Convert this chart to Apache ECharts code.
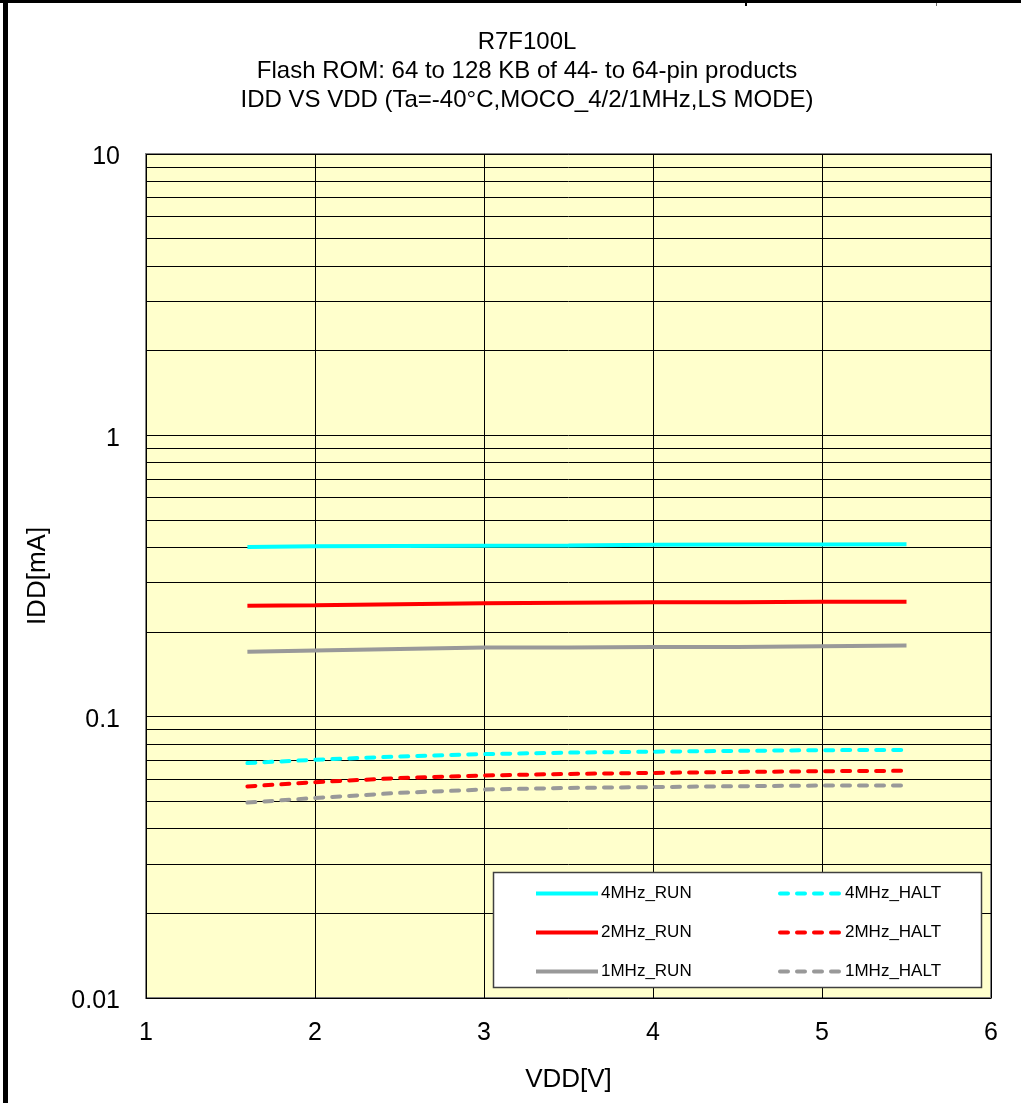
<!DOCTYPE html>
<html><head><meta charset="utf-8">
<script src="https://cdn.jsdelivr.net/npm/echarts@6/dist/echarts.min.js"></script>
<style>html,body{margin:0;padding:0;background:#fff}#c{width:1021px;height:1103px}</style>
</head><body><div id="c"></div>
<script>
const vdd = [1.6, 2, 2.5, 3, 3.5, 4, 4.5, 5, 5.5];
const run4MHz  = [0.401, 0.403, 0.404, 0.405, 0.406, 0.408, 0.409, 0.409, 0.410];
const run2MHz  = [0.248, 0.249, 0.251, 0.253, 0.254, 0.255, 0.255, 0.256, 0.256];
const run1MHz  = [0.170, 0.172, 0.174, 0.176, 0.176, 0.177, 0.177, 0.178, 0.179];
const halt4MHz = [0.0684, 0.0703, 0.0722, 0.0736, 0.0745, 0.0751, 0.0756, 0.0760, 0.0762];
const halt2MHz = [0.0565, 0.0585, 0.0605, 0.0618, 0.0626, 0.0631, 0.0636, 0.0640, 0.0642];
const halt1MHz = [0.0495, 0.0514, 0.0536, 0.0551, 0.0558, 0.0562, 0.0566, 0.0569, 0.0569];
const runNames = ['4MHz_RUN', '2MHz_RUN', '1MHz_RUN'];
const haltNames = ['4MHz_HALT', '2MHz_HALT', '1MHz_HALT'];
const minorGridValues = [0.02,0.03,0.04,0.05,0.06,0.07,0.08,0.09,0.2,0.3,0.4,0.5,0.6,0.7,0.8,0.9,2,3,4,5,6,7,8,9];
const titleLines = ['R7F100L', 'Flash ROM: 64 to 128 KB of 44- to 64-pin products', 'IDD VS VDD (Ta=-40°C,MOCO_4/2/1MHz,LS MODE)'];

const FONT = '"Liberation Sans", Arial, sans-serif';
const zip = (ys) => vdd.map((x, i) => [x, ys[i]]);
const mk = (name, ys, color, dashed) => ({
  name, type: 'line', data: zip(ys), symbol: 'none', smooth: false,
  lineStyle: { color, width: 4, type: dashed ? [8, 9] : 'solid', cap: dashed ? 'round' : 'butt' },
  itemStyle: { color }, z: 5
});
const series = [
  mk(runNames[0], run4MHz, '#00FFFF', false),
  mk(runNames[1], run2MHz, '#FF0000', false),
  mk(runNames[2], run1MHz, '#999999', false),
  mk(haltNames[0], halt4MHz, '#00FFFF', true),
  mk(haltNames[1], halt2MHz, '#FF0000', true),
  mk(haltNames[2], halt1MHz, '#999999', true)
];
series[0].markLine = {
  silent: true, symbol: 'none', animation: false, z: 1,
  label: { show: false },
  lineStyle: { color: '#000', width: 1, type: 'solid' },
  emphasis: { disabled: true },
  data: minorGridValues.map(v => ({ yAxis: v }))
};

const legendBase = {
  orient: 'vertical', top: 885, padding: 0,
  itemWidth: 62, itemHeight: 14, itemGap: 22,
  itemStyle: { opacity: 0 },
  lineStyle: { width: 4 },
  textStyle: { fontFamily: FONT, fontSize: 17, color: '#000', padding: [0, 0, 0, -2] },
  z: 20
};

const chart = echarts.init(document.getElementById('c'), null, { renderer: 'canvas' });
chart.setOption({
  animation: false,
  backgroundColor: '#fff',
  title: {
    text: titleLines.join('\n'), left: 527, top: 28, textAlign: 'center', padding: 0,
    textStyle: { fontFamily: FONT, fontSize: 24, fontWeight: 'normal', color: '#000', lineHeight: 29 }
  },
  grid: { left: 146, top: 154, right: 30, bottom: 105, show: true, backgroundColor: '#FFFFCC', borderColor: '#808080', borderWidth: 2, z: 0 },
  xAxis: {
    type: 'value', min: 1, max: 6, interval: 1,
    name: 'VDD[V]', nameLocation: 'middle', nameGap: 69,
    nameTextStyle: { fontFamily: FONT, fontSize: 26, color: '#000' },
    axisLine: { show: false }, axisTick: { show: false },
    axisLabel: { fontFamily: FONT, fontSize: 25, color: '#000', margin: 23 },
    splitLine: { show: true, lineStyle: { color: '#000', width: 1 } }
  },
  yAxis: {
    type: 'log', logBase: 10, min: 0.01, max: 10,
    name: 'IDD[mA]', nameLocation: 'middle', nameGap: 95,
    nameTextStyle: { fontFamily: FONT, fontSize: 26, color: '#000' },
    axisLine: { show: false }, axisTick: { show: false },
    axisLabel: {
      fontFamily: FONT, fontSize: 25, color: '#000', margin: 26,
      formatter: v => '{a|' + String(Number(v.toPrecision(3))) + '}',
      rich: { a: { fontFamily: FONT, fontSize: 25, color: '#000', padding: [7, 0, 0, 0] } }
    },
    splitLine: { show: true, lineStyle: { color: '#000', width: 1 } }
  },
  legend: [
    Object.assign({}, legendBase, { left: 534, data: runNames }),
    Object.assign({}, legendBase, { left: 778, data: haltNames })
  ],
  graphic: [
    { type: 'rect', shape: { x: 493.5, y: 872.5, width: 488, height: 115 }, style: { fill: '#fff', stroke: '#404040', lineWidth: 1.5 }, z: 10, silent: true },
    { type: 'rect', shape: { x: 3, y: 0, width: 5, height: 1103 }, style: { fill: '#000' }, silent: true },
    { type: 'rect', shape: { x: 0, y: 0, width: 1021, height: 3 }, style: { fill: '#000' }, silent: true },
    { type: 'rect', shape: { x: 745, y: 3, width: 2, height: 3 }, style: { fill: '#000' }, silent: true },
    { type: 'rect', shape: { x: 936, y: 3, width: 1, height: 3 }, style: { fill: '#666' }, silent: true }
  ],
  series
});
</script></body></html>
